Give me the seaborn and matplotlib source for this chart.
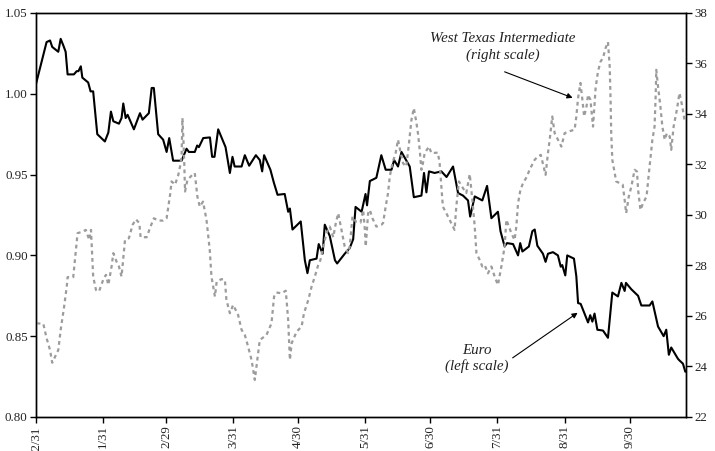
import numpy as np
import pandas as pd
import matplotlib
matplotlib.use("Agg")
import matplotlib.pyplot as plt
import seaborn as sns

# ---- data (days after 12/31/1999) ----
start_date = pd.Timestamp("1999-12-31")

euro_days = [0.0, 4.9, 6.5, 7.5, 10.3, 11.4, 12.6, 13.7, 14.6, 17.5, 18.8, 19.6, 20.7, 21.4,
             24.1, 25.2, 26.4, 28.3, 31.8, 33.4, 34.6, 35.7, 38.3, 39.5, 40.3, 41.4, 42.3,
             45.2, 48.0, 49.2, 52.1, 53.4, 54.4, 56.4, 58.7, 60.3, 61.5, 63.3, 67.2, 69.5,
             70.6, 73.3, 74.4, 75.2, 77.2, 80.3, 81.3, 82.4, 84.1, 87.5, 89.5, 90.7, 91.7,
             94.9, 96.4, 98.4, 101.5, 103.3, 104.4, 105.3, 108.2, 109.8, 111.5, 114.8, 116.4,
             117.2, 118.4, 122.2, 124.1, 125.3, 126.4, 129.5, 130.5, 132.3, 133.3, 135.6,
             138.0, 139.0, 142.5, 144.8, 146.4, 147.5, 150.3, 152.1, 152.8, 154.1, 157.1,
             159.4, 161.4, 164.1, 165.3, 167.1, 168.7, 172.5, 174.4, 177.9, 179.1, 180.2,
             181.4, 184.0, 187.1, 189.5, 192.5, 194.8, 197.1, 199.4, 200.4, 202.5, 206.0,
             208.2, 210.2, 213.2, 214.4, 216.3, 217.4, 220.2, 222.5, 223.5, 224.5, 227.5,
             229.1, 230.2, 231.4, 234.0, 235.2, 236.3, 238.6, 240.9, 242.2, 242.9, 244.3,
             245.2, 248.3, 249.4, 250.2, 251.4, 254.8, 255.8, 256.8, 257.8, 259.1, 261.7,
             264.0, 266.0, 268.6, 270.2, 271.7, 272.3, 274.8, 277.9, 279.4, 283.2, 284.5,
             287.1, 289.7, 290.9, 292.1, 293.2, 296.3, 297.0, 298.6, 299.7]
euro_values = [1.006, 1.032, 1.033, 1.029, 1.026, 1.034, 1.030, 1.026, 1.012, 1.012, 1.014,
               1.014, 1.017, 1.010, 1.007, 1.0015, 1.0015, 0.975, 0.9705, 0.976, 0.989, 0.983,
               0.9815, 0.985, 0.994, 0.985, 0.987, 0.978, 0.988, 0.984, 0.988, 1.0036, 1.0036,
               0.975, 0.9716, 0.964, 0.9726, 0.9586, 0.9586, 0.966, 0.964, 0.964, 0.968, 0.967,
               0.9726, 0.973, 0.961, 0.961, 0.978, 0.967, 0.951, 0.961, 0.955, 0.955, 0.962,
               0.9555, 0.962, 0.959, 0.952, 0.962, 0.953, 0.945, 0.9375, 0.938, 0.927, 0.929,
               0.916, 0.921, 0.897, 0.889, 0.897, 0.898, 0.907, 0.901, 0.919, 0.912, 0.897,
               0.895, 0.901, 0.9045, 0.910, 0.930, 0.927, 0.938, 0.931, 0.946, 0.948, 0.962,
               0.953, 0.953, 0.959, 0.955, 0.964, 0.955, 0.936, 0.937, 0.951, 0.939, 0.952,
               0.951, 0.952, 0.9485, 0.955, 0.9386, 0.937, 0.934, 0.924, 0.9365, 0.934, 0.943,
               0.923, 0.927, 0.915, 0.9055, 0.9076, 0.907, 0.900, 0.9076, 0.9024, 0.9055,
               0.915, 0.916, 0.906, 0.901, 0.896, 0.901, 0.902, 0.900, 0.893, 0.894, 0.8876,
               0.900, 0.898, 0.887, 0.8705, 0.870, 0.8585, 0.863, 0.859, 0.864, 0.854, 0.8535,
               0.849, 0.877, 0.8746, 0.883, 0.878, 0.883, 0.879, 0.875, 0.869, 0.869, 0.8715,
               0.856, 0.850, 0.854, 0.8385, 0.843, 0.836, 0.835, 0.833, 0.828]

wti_days = [0.3, 3.4, 4.9, 6.5, 7.5, 10.3, 11.5, 12.9, 14.2, 14.6, 17.2, 19.2, 21.5, 23.0,
            24.6, 25.4, 26.4, 27.7, 29.1, 31.0, 32.3, 33.4, 34.9, 35.7, 37.2, 38.3, 39.5,
            41.1, 42.9, 44.6, 46.1, 47.7, 48.3, 51.1, 52.6, 54.4, 56.4, 58.7, 60.3, 61.9,
            62.6, 64.2, 65.7, 66.5, 67.2, 67.6, 68.0, 68.4, 68.8, 69.9, 72.2, 73.3, 74.5,
            75.6, 77.1, 78.7, 80.2, 81.0, 82.6, 83.4, 85.6, 87.2, 87.9, 89.5, 91.0, 93.3,
            94.9, 96.4, 97.9, 99.5, 101.0, 102.5, 103.3, 106.4, 108.7, 109.9, 111.0, 113.3,
            115.3, 116.4, 117.2, 118.0, 120.3, 122.6, 123.7, 125.7, 127.2, 128.7, 130.2,
            131.3, 132.6, 134.1, 135.6, 137.2, 138.4, 139.5, 141.0, 142.5, 144.1, 144.8,
            146.1, 147.6, 149.8, 151.0, 151.8, 152.2, 153.3, 154.1, 155.3, 157.1, 159.4,
            160.2, 161.4, 162.5, 163.3, 164.5, 166.0, 167.1, 168.2, 169.4, 170.9, 172.0,
            173.3, 174.4, 175.5, 176.3, 177.1, 177.9, 178.6, 179.4, 181.4, 182.5, 185.5,
            186.3, 187.1, 187.8, 189.4, 190.9, 193.2, 194.0, 195.2, 197.1, 198.6, 200.2,
            201.4, 202.5, 203.3, 204.8, 206.0, 207.1, 208.6, 210.2, 211.7, 213.2, 214.8,
            216.3, 217.1, 218.3, 219.4, 220.9, 221.7, 222.5, 223.6, 224.8, 226.6, 227.8,
            230.2, 231.7, 233.0, 235.2, 236.3, 237.1, 238.3, 239.4, 240.9, 242.5, 244.0,
            246.0, 248.6, 249.4, 250.2, 251.3, 252.2, 253.0, 254.1, 254.8, 255.9, 257.1,
            258.3, 259.4, 260.6, 261.7, 262.9, 264.0, 264.8, 265.2, 265.5, 266.0, 267.8,
            270.8, 271.6, 272.4, 273.6, 274.8, 276.3, 277.4, 277.9, 279.0, 280.2, 281.8,
            283.2, 284.5, 285.5, 286.0, 286.3, 287.1, 288.2, 289.1, 290.2, 291.2, 292.5,
            293.2, 294.3, 295.8, 297.0, 298.3, 299.3]
wti_values = [25.71, 25.69, 25.12, 24.65, 24.15, 24.65, 25.51, 26.31, 27.16, 27.54, 27.54,
              29.28, 29.34, 29.41, 29.01, 29.41, 27.56, 27.03, 26.97, 27.43, 27.63, 27.23,
              27.96, 28.49, 28.15, 27.96, 27.56, 29.01, 29.08, 29.61, 29.83, 29.68, 29.12,
              29.12, 29.48, 29.87, 29.78, 29.78, 29.87, 30.80, 31.33, 31.20, 31.59, 31.92,
              32.32, 33.84, 33.10, 32.20, 30.93, 31.39, 31.59, 31.66, 30.73, 30.33, 30.53,
              29.81, 28.62, 27.56, 26.77, 27.36, 27.46, 27.43, 26.64, 26.11, 26.44, 26.04,
              25.45, 25.25, 24.79, 24.26, 23.47, 24.52, 25.05, 25.25, 25.71, 26.77, 26.93,
              26.90, 27.00, 25.84, 24.26, 24.92, 25.38, 25.58, 26.11, 26.64, 27.16, 27.56,
              28.00, 28.22, 28.75, 29.28, 29.54, 29.12, 29.68, 30.07, 29.41, 28.75, 28.49,
              28.75, 29.94, 29.74, 29.70, 30.20, 29.41, 28.75, 30.07, 30.20, 29.87, 29.54,
              29.61, 29.68, 30.33, 30.87, 31.52, 32.05, 32.45, 32.98, 32.51, 32.05, 31.92,
              32.71, 33.77, 34.23, 33.70, 33.24, 32.58, 31.79, 32.05, 32.45, 32.71, 32.45,
              32.47, 32.05, 31.13, 30.33, 30.07, 29.81, 29.41, 30.33, 31.33, 31.06, 30.87,
              31.62, 30.60, 29.54, 28.49, 28.22, 27.96, 28.02, 27.69, 27.96, 27.56, 27.23,
              27.96, 28.75, 29.81, 29.54, 29.28, 29.01, 29.54, 30.47, 31.00, 31.26, 31.52,
              31.79, 32.19, 32.32, 32.38, 31.59, 32.45, 32.98, 33.90, 33.24, 32.98, 32.71,
              33.24, 33.31, 33.38, 33.90, 34.63, 35.23, 34.56, 33.90, 34.30, 34.76, 34.56,
              33.50, 35.03, 35.69, 36.08, 36.22, 36.61, 36.85, 35.88, 34.56, 33.24, 32.19,
              31.33, 31.20, 30.67, 30.07, 30.73, 31.13, 31.79, 31.72, 31.00, 30.20, 30.47,
              30.73, 31.92, 32.98, 33.50, 34.69, 35.75, 35.09, 34.30, 33.50, 32.98, 33.24,
              33.11, 32.58, 33.50, 34.17, 34.83, 34.30, 33.77]

tick_dates = ["1999-12-31", "2000-01-31", "2000-02-29", "2000-03-31", "2000-04-30",
              "2000-05-31", "2000-06-30", "2000-07-31", "2000-08-31", "2000-09-30"]
tick_labels = ["12/31", "1/31", "2/29", "3/31", "4/30", "5/31", "6/30", "7/31", "8/31", "9/30"]
euro_ticks = [0.80, 0.85, 0.90, 0.95, 1.00, 1.05]
wti_ticks = [22, 24, 26, 28, 30, 32, 34, 36, 38]

# ---- style ----
sns.set_theme(style="ticks")
plt.rcParams["font.family"] = ["Liberation Serif", "DejaVu Serif"]
plt.rcParams["axes.edgecolor"] = "black"
plt.rcParams["axes.linewidth"] = 1.0

euro = pd.DataFrame({"date": start_date + pd.to_timedelta(euro_days, unit="D"),
                     "value": euro_values})
wti = pd.DataFrame({"date": start_date + pd.to_timedelta(wti_days, unit="D"),
                    "value": wti_values})

fig, ax = plt.subplots(figsize=(7.15, 4.51), dpi=100)
fig.subplots_adjust(left=0.0503, right=0.9594, top=0.9712, bottom=0.0754)

sns.lineplot(data=euro, x="date", y="value", ax=ax, color="black", linewidth=1.5,
             estimator=None, sort=False)
ax2 = ax.twinx()
sns.lineplot(data=wti, x="date", y="value", ax=ax2, color="#9c9c9c", linewidth=1.6,
             estimator=None, sort=False, linestyle=(0, (1.7, 1.6)))

ax.set_xlim(start_date, start_date + pd.Timedelta(days=300))
ax.set_ylim(0.80, 1.05)
ax2.set_ylim(22, 38)
ax.set_yticks(euro_ticks)
ax.set_yticklabels([f"{v:.2f}" for v in euro_ticks])
ax2.set_yticks(wti_ticks)
ax2.set_yticklabels([str(v) for v in wti_ticks])
ax.set_xticks(pd.to_datetime(tick_dates))
ax.set_xticklabels(tick_labels, rotation=90)

for a in (ax, ax2):
    a.set_xlabel("")
    a.set_ylabel("")
    a.tick_params(axis="both", labelsize=9.3, length=4, width=1.0, color="black",
                  labelcolor="#222222", pad=2)
    for s in a.spines.values():
        s.set_visible(True)
        s.set_color("black")
        s.set_linewidth(1.0)

# ---- annotations ----
arrow_kw = dict(arrowstyle="-|>", color="black", lw=0.8, mutation_scale=8,
                shrinkA=0, shrinkB=0)
ax2.text(start_date + pd.Timedelta(days=215.6), 36.66,
         "West Texas Intermediate\n(right scale)", ha="center", va="center",
         style="italic", fontsize=10.8, linespacing=1.3, color="#222222")
ax2.annotate("", xy=(start_date + pd.Timedelta(days=247.7), 34.64),
             xytext=(start_date + pd.Timedelta(days=216.3), 35.67),
             arrowprops=arrow_kw)
ax.text(start_date + pd.Timedelta(days=203.4), 0.836, "Euro\n(left scale)",
        ha="center", va="center", style="italic", fontsize=10.8, linespacing=1.2,
        color="#222222", zorder=5)
ax2.annotate("", xy=(start_date + pd.Timedelta(days=250.0), 38 - (1.05 - 0.8645) / 0.25 * 16),
             xytext=(start_date + pd.Timedelta(days=220.0), 38 - (1.05 - 0.8366) / 0.25 * 16),
             arrowprops=arrow_kw)

fig.savefig("out.png", dpi=100)
